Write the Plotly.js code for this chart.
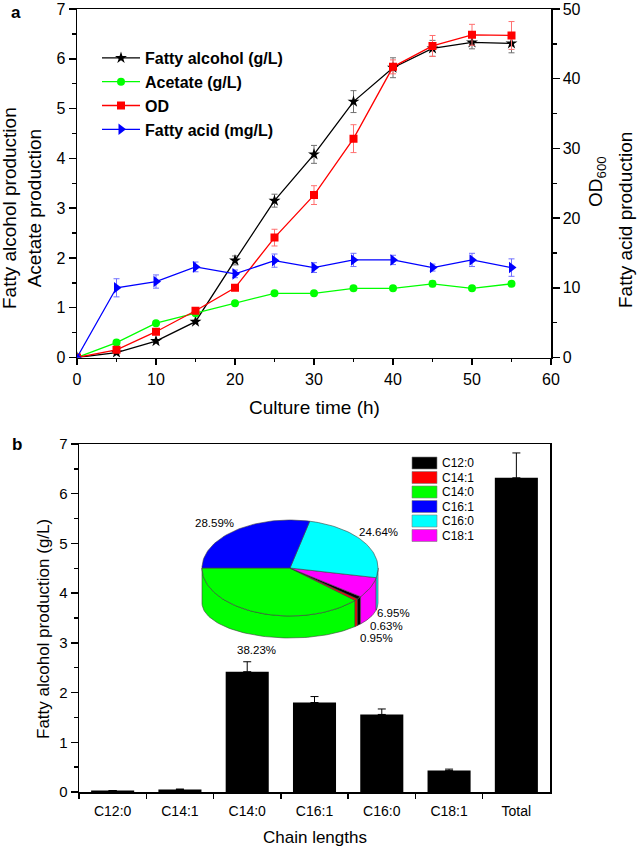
<!DOCTYPE html>
<html><head><meta charset="utf-8">
<script src="https://cdn.plot.ly/plotly-3.0.1.min.js"></script>
<style>html,body{margin:0;padding:0;background:#fff}#chart{width:638px;height:849px}</style>
</head><body><div id="chart"></div>
<script>
// ---- Panel a data ----
const timeH = [0,5,10,15,20,25,30,35,40,45,50,55];
const fattyAlcohol = [0,0.10,0.33,0.72,1.95,3.15,4.08,5.14,5.82,6.21,6.33,6.31];
const fattyAlcoholErr = [0,0.03,0.03,0.03,0.09,0.13,0.18,0.22,0.20,0.16,0.13,0.19];
const acetate = [0,0.30,0.69,0.89,1.09,1.29,1.29,1.39,1.39,1.48,1.39,1.48];
const acetateErr = [0,0.02,0.02,0.02,0.02,0.02,0.02,0.02,0.02,0.06,0.02,0.04];
const od600 = [0,1.1,3.7,6.7,10.0,17.2,23.3,31.4,41.7,44.7,46.3,46.2];
const od600Err = [0,0.3,0.3,0.3,0.4,1.2,1.35,2.0,1.0,1.5,1.5,2.0];
const fattyAcid = [0,10.0,10.9,13.0,12.0,13.9,12.9,14.0,14.0,12.9,14.0,12.9];
const fattyAcidErr = [0,1.3,0.95,0.7,0.55,0.95,0.7,0.95,0.67,0.5,0.95,1.25];
const seriesNames = ['Fatty alcohol (g/L)','Acetate (g/L)','OD','Fatty acid (mg/L)'];

// ---- Panel b data ----
const chainLengths = ['C12:0','C14:1','C14:0','C16:1','C16:0','C18:1','Total'];
const chainProd = [0.03,0.05,2.42,1.80,1.56,0.43,6.32];
const chainErr = [0,0.01,0.20,0.12,0.11,0.03,0.50];

const pieCats = ['C12:0','C14:1','C14:0','C16:1','C16:0','C18:1'];
const piePct = [0.95,0.63,38.23,28.59,24.64,6.95];

// ---- styles / layout helpers ----
const W = 638, H = 849;
const fx = px => px / W, fy = py => 1 - py / H;
const pieColors = ['#000000','#ff0000','#00ff00','#0000ff','#00ffff','#ff00ff'];
const pieOrder = [2,1,0,5,4,3];            // drawing order from the left, going round the front
const pieGeom = {cx:290, cy:568, rx:88, ry:48, cyB:603, ryB:35, start:180};
const pieLabelPos = {0:[376,638],1:[386,625.5],2:[256,650],3:[214,523],4:[378,532],5:[393,613]};

const traces = [];
const errStyle = (arr, col) => ({type:'data', array:arr, visible:true, color:col, thickness:1, width:3});
traces.push({x:timeH, y:fattyAlcohol, name:seriesNames[0], type:'scatter', mode:'lines+markers',
  line:{color:'#000', width:1.3}, marker:{symbol:'star', size:9, color:'#000'},
  error_y:errStyle(fattyAlcoholErr,'#707070'), xaxis:'x', yaxis:'y'});
traces.push({x:timeH, y:acetate, name:seriesNames[1], type:'scatter', mode:'lines+markers',
  line:{color:'#00ff00', width:1.3}, marker:{symbol:'circle', size:8, color:'#00ff00'},
  error_y:errStyle(acetateErr,'#70ff70'), xaxis:'x', yaxis:'y'});
traces.push({x:timeH, y:od600, name:seriesNames[2], type:'scatter', mode:'lines+markers',
  line:{color:'#ff0000', width:1.3}, marker:{symbol:'square', size:8, color:'#ff0000'},
  error_y:errStyle(od600Err,'#ff7070'), xaxis:'x', yaxis:'y2'});
traces.push({x:timeH, y:fattyAcid, name:seriesNames[3], type:'scatter', mode:'lines+markers',
  line:{color:'#0000ff', width:1.3}, marker:{symbol:'triangle-right', size:10, color:'#0000ff'},
  error_y:errStyle(fattyAcidErr,'#7070ff'), xaxis:'x', yaxis:'y2'});

traces.push({x:chainLengths, y:chainProd, type:'bar', width:0.64, marker:{color:'#000'},
  error_y:{type:'data', symmetric:false, array:chainErr, arrayminus:chainErr.map(()=>0), color:'#000', thickness:1, width:4},
  xaxis:'x2', yaxis:'y3', showlegend:false, hoverinfo:'skip'});

// ---- 3D-looking pie from the percentage data ----
function ept(theta, bottom){
  const t = theta*Math.PI/180;
  return [pieGeom.cx + pieGeom.rx*Math.cos(t), (bottom?pieGeom.cyB:pieGeom.cy) - (bottom?pieGeom.ryB:pieGeom.ry)*Math.sin(t)];
}
function arc(a,b,bottom){
  const n = Math.max(2, Math.ceil(Math.abs(b-a)/2));
  const pts=[]; for(let i=0;i<=n;i++){pts.push(ept(a+(b-a)*i/n,bottom));} return pts;
}
const total = piePct.reduce((s,v)=>s+v,0);
const spans = []; let ang = pieGeom.start;
pieOrder.forEach(idx=>{ const d = piePct[idx]/total*360; spans.push({idx, a:ang, b:ang+d}); ang += d; });
// side walls (front half: 180..360)
spans.forEach(s=>{
  const a = Math.max(s.a,180), b = Math.min(s.b,360);
  if (b<=a) return;
  const top = arc(a,b,false), bot = arc(b,a,true);
  const pts = top.concat(bot); pts.push(top[0]);
  traces.push({x:pts.map(p=>p[0]), y:pts.map(p=>p[1]), type:'scatter', mode:'lines', fill:'toself',
    fillcolor:pieColors[s.idx], line:{color:'#404040', width:0.6}, xaxis:'x3', yaxis:'y4', showlegend:false, hoverinfo:'skip'});
});
// top faces
spans.forEach(s=>{
  const pts = [[pieGeom.cx,pieGeom.cy]].concat(arc(s.a,s.b,false)); pts.push([pieGeom.cx,pieGeom.cy]);
  traces.push({x:pts.map(p=>p[0]), y:pts.map(p=>p[1]), type:'scatter', mode:'lines', fill:'toself',
    fillcolor:pieColors[s.idx], line:{color:'#404040', width:0.6}, xaxis:'x3', yaxis:'y4', showlegend:false, hoverinfo:'skip'});
});

const annotations = [];
const shapes = [];
const A = (x,y,text,opt) => Object.assign({xref:'paper', yref:'paper', x:fx(x), y:fy(y), text, showarrow:false,
  xanchor:'center', yanchor:'middle'}, opt||{});
annotations.push(A(16,13,'a',{font:{size:17, weight:'bold'}}));
annotations.push(A(17,445,'b',{font:{size:17, weight:'bold'}}));
annotations.push(A(22,208,'Fatty alcohol production<br>Acetate production',{textangle:-90, font:{size:19}}));
annotations.push(A(597,182,'OD<sub>600</sub>',{textangle:-90, font:{size:19}}));
annotations.push(A(625,220,'Fatty acid production',{textangle:-90, font:{size:19}}));
annotations.push(A(314,407,'Culture time (h)',{font:{size:19}}));
annotations.push(A(43,629,'Fatty alcohol production (g/L)',{textangle:-90, font:{size:17}}));
annotations.push(A(315,837,'Chain lengths',{font:{size:17}}));
// pie percentage labels
pieCats.forEach((c,i)=>{
  const p = pieLabelPos[i];
  annotations.push({xref:'x3', yref:'y4', x:p[0], y:p[1], text:piePct[i].toFixed(2)+'%', showarrow:false,
    xanchor:'center', yanchor:'middle', borderpad:0, font:{size:11.5}});
});
// pie legend
pieCats.forEach((c,i)=>{
  const y0 = 457 + i*14.5;
  shapes.push({type:'rect', xref:'x3', yref:'y4', x0:412, x1:437, y0:y0, y1:y0+12, fillcolor:pieColors[i], line:{color:'#808080', width:0.6}});
  annotations.push({xref:'x3', yref:'y4', x:440, y:y0+6, text:c, xanchor:'left', yanchor:'middle', showarrow:false, font:{size:12}});
});

const axBase = {showline:true, linewidth:1.5, linecolor:'#000', ticks:'outside', tickwidth:1.5, tickcolor:'#000',
  showgrid:false, zeroline:false};
const layout = {
  width:W, height:H, margin:{l:0,r:0,t:0,b:0}, paper_bgcolor:'#fff', plot_bgcolor:'rgba(0,0,0,0)',
  font:{family:'Arial, "Liberation Sans", sans-serif', color:'#000'},
  showlegend:true,
  legend:{x:fx(97), y:fy(41), xanchor:'left', yanchor:'top', bgcolor:'rgba(0,0,0,0)', borderwidth:0,
    font:{size:16, weight:'bold'}, itemwidth:38, tracegroupgap:0},
  xaxis:Object.assign({}, axBase, {domain:[fx(77),fx(551)], anchor:'y', range:[0,60], dtick:10, ticklen:6, mirror:true,
    ticklabelstandoff:1, tickfont:{size:16}, minor:{dtick:5, ticks:'outside', ticklen:3, tickwidth:1.5, tickcolor:'#000'}}),
  yaxis:Object.assign({}, axBase, {domain:[fy(357.5),fy(9)], anchor:'x', range:[0,7], dtick:1, ticklen:7,
    tickfont:{size:16}, minor:{dtick:0.5, ticks:'outside', ticklen:4, tickwidth:1.5, tickcolor:'#000'}}),
  yaxis2:Object.assign({}, axBase, {overlaying:'y', side:'right', anchor:'x', range:[0,50], dtick:10, ticklen:7,
    tickfont:{size:16}, minor:{dtick:5, ticks:'outside', ticklen:4, tickwidth:1.5, tickcolor:'#000'}}),
  xaxis2:Object.assign({}, axBase, {domain:[fx(79),fx(550)], anchor:'y3', type:'category', range:[-0.5,6.5],
    tickson:'boundaries', ticklen:5, mirror:true, ticklabelstandoff:6, tickfont:{size:14}}),
  yaxis3:Object.assign({}, axBase, {domain:[fy(792),fy(444)], anchor:'x2', range:[0,7], dtick:1, ticklen:7, mirror:true,
    tickfont:{size:15}, minor:{dtick:0.5, ticks:'outside', ticklen:4, tickwidth:1.5, tickcolor:'#000'}}),
  xaxis3:{domain:[0,1], range:[0,W], visible:false, anchor:'y4', fixedrange:true},
  yaxis4:{domain:[0,1], range:[H,0], visible:false, anchor:'x3', fixedrange:true},
  annotations, shapes
};
Plotly.newPlot('chart', traces, layout, {staticPlot:true});
</script></body></html>
